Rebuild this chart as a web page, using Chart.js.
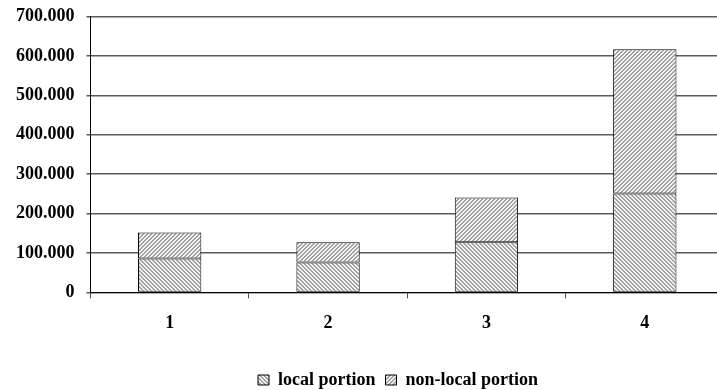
<!DOCTYPE html>
<html>
<head>
<meta charset="utf-8">
<script src="https://cdn.jsdelivr.net/npm/chart.js@4/dist/chart.umd.min.js"></script>
<style>
html,body{margin:0;padding:0;background:#fff;overflow:hidden;width:717px;height:390px;}
#wrap{width:724px;height:390px;}
</style>
</head>
<body>
<div id="wrap"><canvas id="c" width="724" height="390"></canvas></div>
<script>
const categories = ['1', '2', '3', '4'];
const localPortion = [86000, 76000, 127000, 251000];
const nonLocalPortion = [66000, 51000, 114000, 366000];
const seriesNames = ['local portion', 'non-local portion'];
const yMax = 700000;
const yStep = 100000;

function makePattern(dir, dark, light) {
  const n = 4;
  const c = document.createElement('canvas');
  c.width = n; c.height = n;
  const x = c.getContext('2d');
  x.fillStyle = light; x.fillRect(0, 0, n, n);
  x.fillStyle = dark;
  for (let yy = 0; yy < n; yy++) {
    for (let xx = 0; xx < n; xx++) {
      const d = dir === '\\' ? ((xx - yy) % n + n) % n : (xx + yy) % n;
      if (d === 0 || d === 1) x.fillRect(xx, yy, 1, 1);
    }
  }
  return x.createPattern(c, 'repeat');
}

function fmt(v) {
  if (v === 0) return '0';
  const s = String(Math.round(v));
  return s.replace(/\B(?=(\d{3})+(?!\d))/g, '.');
}

const font = { family: '"Liberation Serif", "Times New Roman", serif', size: 18, weight: 'bold' };
const yFont = { family: '"Liberation Serif", "Times New Roman", serif', size: 18, weight: 'bold', lineHeight: 0.5 };

const legendShift = {
  id: 'legendShift',
  afterLayout(chart) {
    const l = chart.legend;
    if (!l) return;
    l.left += 34; l.right += 34;
    l.top += 9; l.bottom += 9;
  }
};

new Chart(document.getElementById('c'), {
  type: 'bar',
  data: {
    labels: categories,
    datasets: [
      { label: seriesNames[0], data: localPortion, backgroundColor: makePattern('\\', '#a2a2a2', '#f2f2f2'), borderColor: '#000', borderWidth: 1, borderSkipped: false, categoryPercentage: 0.8, barPercentage: 0.5 },
      { label: seriesNames[1], data: nonLocalPortion, backgroundColor: makePattern('/', '#a2a2a2', '#f2f2f2'), borderColor: '#000', borderWidth: 1, borderSkipped: false, categoryPercentage: 0.8, barPercentage: 0.5 }
    ]
  },
  plugins: [legendShift],
  options: {
    responsive: false,
    animation: false,
    layout: { padding: { left: 4, top: 16, right: 0, bottom: 0 } },
    plugins: {
      tooltip: { enabled: false },
      legend: {
        position: 'bottom',
        labels: { font: font, color: '#000', boxWidth: 11, boxHeight: 10, padding: 10 }
      }
    },
    scales: {
      x: {
        stacked: true,
        grid: { display: true, drawOnChartArea: false, offset: true, tickLength: 6, color: '#555' },
        border: { display: true, color: '#000', width: 1 },
        ticks: { font: font, color: '#000', padding: 14 },
        afterFit: function (scale) { scale.height += 4; }
      },
      y: {
        stacked: true,
        min: 0,
        max: yMax,
        grid: { color: '#5a5a5a', lineWidth: 1.5, tickLength: 4 },
        border: { display: true, color: '#000', width: 1 },
        ticks: { stepSize: yStep, font: yFont, color: '#000', padding: 12, callback: function (v) { return fmt(v); } }
      }
    }
  }
});
</script>
</body>
</html>
